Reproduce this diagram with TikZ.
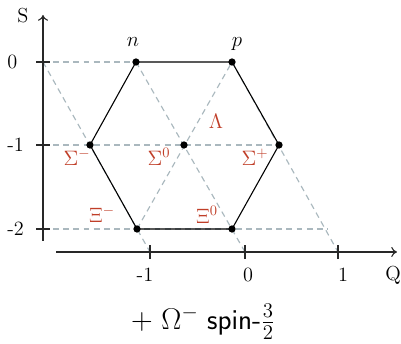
\documentclass[tikz,border=0pt]{standalone}
\usetikzlibrary{arrows.meta}
\definecolor{lblred}{RGB}{192,62,40}
\definecolor{dashgray}{RGB}{170,184,190}
\definecolor{axisgray}{RGB}{40,40,40}
\begin{document}
\begin{tikzpicture}[x=0.69pt,y=-0.69pt,
  every node/.style={font=\fontsize{14}{16}\selectfont},
  guide/.style={dashgray,dashed,dash pattern=on 4pt off 3pt,line width=0.8pt},
  edge/.style={black,line width=0.75pt},
  dot/.style={circle,fill=black,inner sep=0pt,minimum size=5pt},
  axisline/.style={axisgray,line width=0.75pt},
  tickmark/.style={axisgray,line width=1.4pt},
  lbl/.style={lblred,inner sep=0pt},
  num/.style={inner sep=0pt}]
\useasboundingbox (0,0) rectangle (401,344);
% lattice points
\coordinate (n) at (136,62);
\coordinate (p) at (232,62);
\coordinate (sm) at (90,145);
\coordinate (s0) at (184,145);
\coordinate (sp) at (279,145);
\coordinate (xm) at (137,229);
\coordinate (x0) at (232,229);
% axis points
\coordinate (o0) at (43,62);
\coordinate (o1) at (43,145);
\coordinate (o2) at (43,229);
\coordinate (qm) at (150,252);
\coordinate (q0) at (245,252);
\coordinate (q1) at (338,252);
\coordinate (e2) at (328,229);
\coordinate (sbot) at (43,241);
\coordinate (stop) at (43,15);
\coordinate (qleft) at (56,252);
\coordinate (qright) at (397,252);
% guide lines
\draw[guide] (o0) -- (n);
\draw[guide] (o1) -- (sp);
\draw[guide] (o2) -- (e2);
\draw[guide] (o0) -- (qm);
\draw[guide] (n) -- (q0);
\draw[guide] (p) -- (q1);
\draw[guide] (xm) -- (p);
% hexagon
\draw[edge] (n) -- (p) -- (sp) -- (x0) -- (xm) -- (sm) -- cycle;
% dots
\foreach \c in {n,p,sm,s0,sp,xm,x0} \node[dot] (d\c) at (\c) {};
% axes
\draw[axisline,-{To[length=4pt,width=7pt]}] (sbot) -- (stop);
\draw[axisline,-{To[length=4pt,width=7pt]}] (qleft) -- (qright);
\foreach \c in {o0,o1,o2} \draw[tickmark] ([xshift=-4.5]\c) -- ([xshift=4.5]\c);
\foreach \c in {qm,q0,q1} \draw[tickmark] ([yshift=-5]\c) -- ([yshift=5]\c);
% axis labels
\node[num] (lS) at (23,16) {S};
\node[num,anchor=west] (l0) at (7,62) {0};
\node[num,anchor=west] (l1) at (7,145) {-1};
\node[num,anchor=west] (l2) at (7,229) {-2};
\node[num] (lqm) at (145,275) {-1};
\node[num] (lq0) at (248,275) {0};
\node[num] (lq1) at (343,275) {1};
\node[num] (lQ) at (393,275) {Q};
% particle labels
\node[inner sep=0pt] (ln) at (133,42) {$n$};
\node[inner sep=0pt] (lp) at (237,44) {$p$};
\node[lbl] (lsm) at (77,157) {$\Sigma^-$};
\node[lbl] (ls0) at (159,157) {$\Sigma^0$};
\node[lbl] (lL) at (216,121) {$\Lambda$};
\node[lbl] (lsp) at (255,157) {$\Sigma^+$};
\node[lbl] (lxm) at (102,214) {$\Xi^-$};
\node[lbl] (lx0) at (207,215) {$\Xi^0$};
% bottom caption
\node[inner sep=0pt,font=\fontsize{20}{22}\selectfont] (cap) at (203,322) {$+$ $\Omega^-$\ \textsf{spin-}$\frac{3}{2}$};
\end{tikzpicture}
\end{document}
